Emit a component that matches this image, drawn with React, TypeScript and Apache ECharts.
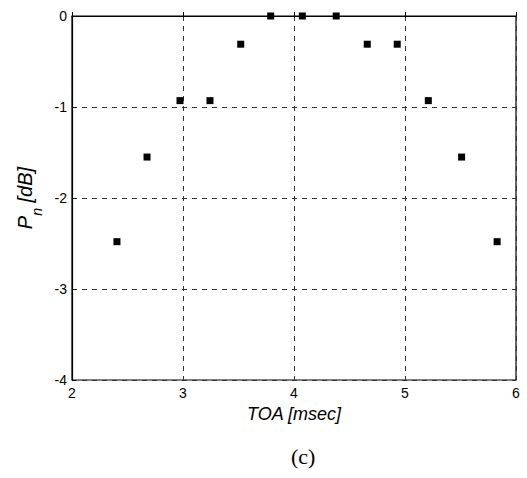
import React, { useEffect, useRef } from "react";
import * as echarts from "echarts";

const toa = [2.405, 2.676, 2.973, 3.243, 3.52, 3.79, 4.075, 4.38, 4.66, 4.93, 5.21, 5.51, 5.83];
const pn = [-2.48, -1.55, -0.93, -0.93, -0.31, 0, 0, 0, -0.31, -0.31, -0.93, -1.55, -2.48];
const xTicks = [2, 3, 4, 5, 6];
const yTicks = [-4, -3, -2, -1, 0];

export default function App() {
  const ref = useRef<HTMLDivElement>(null);
  useEffect(() => {
    document.body.style.margin = "0";
    const chart = echarts.init(ref.current!, null, { renderer: "svg" });
    const font = "'Liberation Sans', Arial, sans-serif";
    chart.setOption({
      animation: false,
      backgroundColor: "#fff",
      grid: {
        left: 72,
        top: 16,
        width: 444,
        height: 364,
        show: true,
        borderColor: "#000",
        borderWidth: 1.2,
        backgroundColor: "transparent",
      },
      xAxis: {
        type: "value",
        min: xTicks[0],
        max: xTicks[xTicks.length - 1],
        interval: 1,
        name: "TOA [msec]",
        nameLocation: "middle",
        nameGap: 25,
        nameTextStyle: { fontFamily: font, fontStyle: "italic", fontSize: 18, color: "#000" },
        axisLine: { show: true, lineStyle: { color: "#000", width: 1.2 } },
        axisTick: { show: true, inside: true, length: 4, lineStyle: { color: "#000" } },
        axisLabel: { color: "#000", fontFamily: font, fontSize: 14, margin: 6 },
        splitLine: { show: true, lineStyle: { color: "#333", type: [5, 5], width: 1 } },
      },
      yAxis: {
        type: "value",
        min: yTicks[0],
        max: yTicks[yTicks.length - 1],
        interval: 1,
        name: "{p|P}{s|n}{p| [dB]}",
        nameLocation: "middle",
        nameGap: 30,
        nameRotate: 90,
        nameTextStyle: {
          fontFamily: font,
          fontStyle: "italic",
          fontSize: 20,
          color: "#000",
          rich: {
            p: { fontFamily: font, fontStyle: "italic", fontSize: 20, color: "#000" },
            s: { fontFamily: font, fontStyle: "italic", fontSize: 14, color: "#000", verticalAlign: "bottom", padding: [0, 0, -9, 0] },
          },
        },
        axisLine: { show: true, lineStyle: { color: "#000", width: 1.2 } },
        axisTick: { show: true, inside: true, length: 4, lineStyle: { color: "#000" } },
        axisLabel: { color: "#000", fontFamily: font, fontSize: 14, margin: 5 },
        splitLine: { show: true, lineStyle: { color: "#333", type: [5, 5], width: 1 } },
      },
      graphic: [
        {
          type: "text",
          left: 291,
          top: 445,
          style: { text: "(c)", fontFamily: "'Liberation Serif', 'Times New Roman', serif", fontSize: 22, fill: "#000" },
        },
      ],
      series: [
        {
          type: "scatter",
          symbol: "rect",
          symbolSize: 7,
          itemStyle: { color: "#000", opacity: 1 },
          data: toa.map((x, i) => [x, pn[i]]),
          clip: false,
        },
      ],
    });
    return () => chart.dispose();
  }, []);
  return <div ref={ref} style={{ width: 527, height: 478 }} />;
}
